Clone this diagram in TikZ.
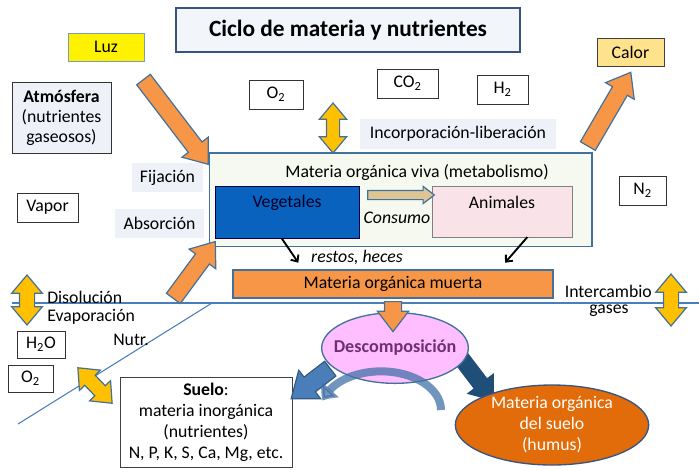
\documentclass[tikz,border=0pt]{standalone}
\usepackage{fontspec}
\setmainfont{Carlito}
\usetikzlibrary{shapes.arrows,shapes.geometric,arrows.meta,bending}

\definecolor{azulborde}{RGB}{65,113,156}
\definecolor{titborde}{RGB}{56,84,130}
\definecolor{titulofondo}{RGB}{242,245,250}
\definecolor{etiqfondo}{RGB}{238,242,248}
\definecolor{naranja}{RGB}{247,150,70}
\definecolor{amarillo}{RGB}{255,192,0}
\definecolor{calorfondo}{RGB}{255,226,140}
\definecolor{vivafondo}{RGB}{246,249,240}
\definecolor{vegazul}{RGB}{8,98,190}
\definecolor{animrosa}{RGB}{249,227,232}
\definecolor{consumotan}{RGB}{221,198,148}
\definecolor{descrosa}{RGB}{255,190,255}
\definecolor{desctexto}{RGB}{112,48,112}
\definecolor{azulmedio}{RGB}{74,126,187}
\definecolor{azuloscuro}{RGB}{31,78,121}
\definecolor{humusnar}{RGB}{227,108,10}
\definecolor{linea}{RGB}{74,126,187}

\newcommand\letra{\fontsize{13.3}{15.5}\selectfont}

\begin{document}
\begin{tikzpicture}[x=0.75pt,y=-0.75pt,
  every node/.style={font=\letra},
  gasbox/.style={draw=black!80,fill=white,minimum height=22pt,inner sep=0pt},
  etiq/.style={fill=etiqfondo,minimum height=22pt,inner sep=0pt},
  flecha/.style={single arrow,draw=azulborde,fill=naranja,line width=0.9pt,inner xsep=0pt,inner ysep=6pt,
    single arrow head extend=6pt,single arrow tip angle=75},
  dobleflecha/.style={double arrow,draw=azulborde,fill=amarillo,line width=0.9pt,inner xsep=0pt,inner ysep=5pt,
    double arrow head extend=5.5pt,double arrow tip angle=80},
  restos/.style={-{Straight Barb[length=4pt,width=7pt]},line width=1.4pt}]
\useasboundingbox (0,0) rectangle (699,469);

%titulo
\node[draw=titborde,fill=titulofondo,line width=1pt,minimum width=258pt,minimum height=33pt,
  font=\fontsize{17.5}{20}\selectfont\bfseries] (titulo) at (348,30) {Ciclo de materia y nutrientes};

%luz, calor y atmosfera
\node[draw=azulborde!70,fill=yellow,minimum width=57pt,minimum height=21pt,inner sep=0pt] (luz) at (106,47) {Luz};
\node[draw=black!75,fill=calorfondo,minimum width=50pt,minimum height=21pt,inner sep=0pt] (calor) at (630.5,52) {Calor};
\node[draw=black!80,fill=etiqfondo,minimum width=74pt,minimum height=53pt,inner sep=0pt,align=center,
  font=\fontsize{13.3}{15}\selectfont] (atm) at (61.5,117.5)
  {\textbf{Atmósfera}\\(nutrientes\\gaseosos)};

%gases
\node[gasbox,minimum width=40.5pt] (otop) at (276,94.5) {O\textsubscript{2}};
\node[gasbox,minimum width=46pt] (co) at (407.5,83.5) {CO\textsubscript{2}};
\node[gasbox,minimum width=38pt] (hidro) at (502.5,89.5) {H\textsubscript{2}};
\node[gasbox,minimum width=46pt] (vapor) at (47.5,207.5) {Vapor};
\node[gasbox,minimum width=35pt] (nitro) at (642.5,190.5) {N\textsubscript{2}};
\node[gasbox,minimum width=36pt,minimum height=20pt] (agua) at (41,344.5) {H\textsubscript{2}O};
\node[gasbox,minimum width=34pt,minimum height=20pt] (obajo) at (30.5,378.5) {O\textsubscript{2}};

%etiquetas
\node[etiq,minimum width=147pt] (incorp) at (458,134) {Incorporación-liberación};
\node[etiq,minimum width=53pt] (fija) at (167.5,177.5) {Fijación};
\node[etiq,minimum width=67pt] (absor) at (159.5,223.5) {Absorción};

%materia organica viva
\node[draw=azulborde,fill=vivafondo,line width=1pt,minimum width=287pt,minimum height=70pt] (viva) at (400.5,199.5) {};
\node (vivatxt) at (417,173) {Materia orgánica viva (metabolismo)};
\node[draw=black!70!blue,fill=vegazul,minimum width=108pt,minimum height=39pt] (veg) at (287,212) {};
\node[text=black!85!blue] (vegtxt) at (287,203) {Vegetales};
\node[draw=black!50,fill=animrosa,minimum width=105pt,minimum height=38pt] (anim) at (502,211.5) {};
\node (animtxt) at (502,202) {Animales};
\node[flecha,fill=consumotan,inner ysep=3pt,single arrow head extend=3pt,minimum height=50pt] (consumo) at (398,195) {};
\node[font=\letra\itshape] (consumotxt) at (397,218) {Consumo};

%materia organica muerta
\node[draw=azulborde,fill=naranja,line width=0.9pt,minimum width=240pt,minimum height=21pt,inner sep=0pt] (muerta) at (393,284)
  {Materia orgánica muerta};
\node[font=\letra\itshape] (restostxt) at (357,257) {restos, heces};
\draw[restos] ([xshift=-4pt]veg.south) -- ([xshift=-71pt,yshift=5pt]muerta.north);
\draw[restos] ([xshift=19pt]anim.south) -- ([xshift=84pt,yshift=5pt]muerta.north);

%superficie del suelo
\coordinate (hizq) at (12,303);
\coordinate (hder) at (699,303);
\coordinate (dabajo) at (18,424);
\coordinate (darriba) at (212,303);
\draw[linea,line width=0.8pt] (hizq) -- (hder);
\draw[linea,line width=0.8pt] (dabajo) -- (darriba);

%flechas grandes
\node[flecha,rotate=-52.6,minimum height=80pt] (fluz) at (172.5,117.5) {};
\node[flecha,rotate=59.8,minimum height=64pt] (fcalor) at (606.5,114) {};
\node[flecha,rotate=53.6,minimum height=53pt] (fabs) at (191,274.5) {};

%intercambios
\node[dobleflecha,rotate=90,minimum height=37.5pt,inner ysep=4.5pt,double arrow head extend=5.25pt] (fincorp) at (333,128) {};
\node[dobleflecha,rotate=90,minimum height=37.5pt,inner ysep=5.25pt,double arrow head extend=5.75pt] (fizq) at (27,300) {};
\node[dobleflecha,rotate=90,minimum height=39pt,inner ysep=5.25pt,double arrow head extend=5.75pt] (fder) at (671,300) {};
\node[dobleflecha,rotate=-46,minimum height=37pt] (fdiag) at (95,385.5) {};
\node[anchor=west,inner sep=0pt] (disol) at (47,297) {Disolución};
\node[anchor=west,inner sep=0pt] (evap) at (47,317) {Evaporación};
\node[anchor=west,inner sep=0pt] (nutr) at (113,340) {Nutr.};
\node[anchor=east,inner sep=0pt] (interc) at (652,291) {Intercambio};
\node[inner sep=0pt] (gases) at (609,311) {gases};

%suelo
\node[draw=black!75,fill=white,minimum width=129pt,minimum height=67.5pt,inner sep=0pt,align=center,
  font=\fontsize{13.3}{15.75}\selectfont] (suelo) at (206,422)
  {\textbf{Suelo}:\\materia inorgánica\\(nutrientes)\\N, P, K, S, Ca, Mg, etc.};

%descomposicion
\node[flecha,fill=azulmedio,draw=azulborde!80!black,rotate=-142.4,minimum height=37pt,inner ysep=6.5pt,single arrow head extend=6.5pt] (fizqdesc) at (315.5,380) {};
\node[flecha,fill=azuloscuro,draw=azuloscuro,rotate=-52.7,minimum height=40pt,inner ysep=5.5pt] (fhumus) at (474,375) {};
\node[ellipse,draw=azulborde,fill=descrosa,line width=1pt,minimum width=110pt,minimum height=53pt,inner sep=0pt] (desc) at (395,348) {};
\node[text=desctexto,font=\fontsize{13.6}{16}\selectfont\bfseries] (desctxt) at (desc) {Descomposición};
\draw[azulmedio!90!black,opacity=0.75,line width=6pt,-{Triangle[width=17pt,length=10pt,bend]}]
  (441,410) arc (0:166:45pt and 29pt);
\node[flecha,rotate=-90,minimum height=22.5pt,single arrow head extend=5.25pt] (fdesc) at (393,311) {};

%humus
\node[ellipse,draw=titborde,fill=humusnar,line width=1pt,minimum width=145pt,minimum height=60pt,inner sep=0pt] (humus) at (552,425) {};
\node[text=white,align=center,font=\fontsize{13.3}{15.75}\selectfont] (humustxt) at (humus) {Materia orgánica\\del suelo\\(humus)};

\end{tikzpicture}
\end{document}
